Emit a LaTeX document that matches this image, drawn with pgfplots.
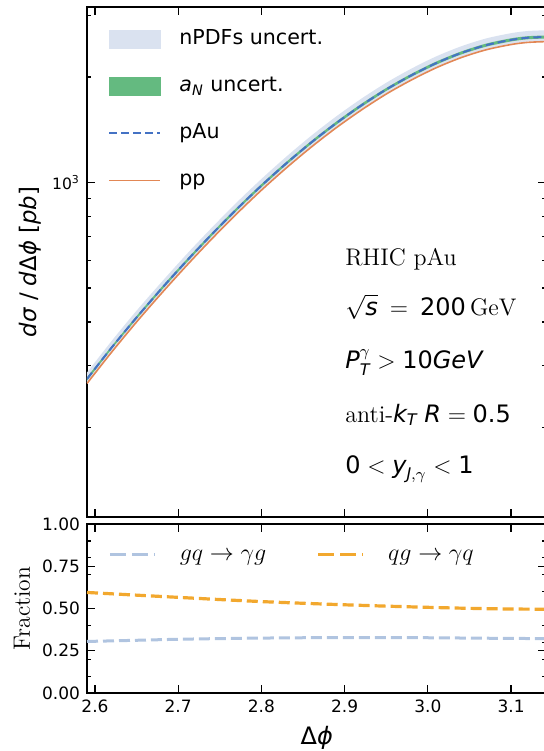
\documentclass[border=0pt]{standalone}
\usepackage{amsmath}
\usepackage{fontspec}
\usepackage{pgfplots}
\usepackage{pgfplotstable}
\usepgfplotslibrary{fillbetween}
\usetikzlibrary{calc}
\pgfplotsset{compat=1.18}
\newfontfamily\dv{DejaVu Sans}

\definecolor{nband}{RGB}{218,226,240}
\definecolor{aband}{RGB}{100,186,128}
\definecolor{paucol}{RGB}{68,114,196}
\definecolor{ppcol}{RGB}{226,135,85}
\definecolor{gqcol}{RGB}{176,196,224}
\definecolor{qgcol}{RGB}{242,168,46}

\newcommand{\si}[1]{{\dv\itshape #1}}
\newcommand{\su}[1]{{\dv #1}}

% cross section vs. azimuthal separation: pAu central value, pp,
% nPDF band (nlo..nhi) and a_N band (alo..ahi)
\pgfplotstableread{
x      pau  pp   nlo  nhi  alo  ahi
2.5904 275  267  268  287  272  278
2.62   338  328  330  353  335  341
2.65   412  400  402  431  408  416
2.68   498  483  486  520  493  503
2.71   597  579  582  624  591  603
2.74   710  689  692  742  703  717
2.77   838  813  817  876  830  846
2.80   980  951  956  1024 970  990
2.83   1135 1101 1107 1186 1124 1146
2.86   1302 1263 1269 1361 1289 1315
2.89   1478 1434 1441 1545 1463 1493
2.92   1660 1610 1619 1735 1643 1677
2.95   1844 1789 1798 1927 1826 1862
2.98   2022 1961 1971 2113 2002 2042
3.01   2192 2126 2137 2291 2170 2214
3.04   2343 2273 2284 2448 2320 2366
3.07   2467 2393 2405 2578 2442 2492
3.10   2554 2477 2490 2669 2528 2580
3.12   2590 2512 2525 2707 2564 2616
3.1416 2603 2525 2538 2720 2577 2629
}\spec

% channel fractions
\pgfplotstableread{
x      gq    qg
2.5904 0.305 0.595
2.65   0.312 0.579
2.70   0.318 0.566
2.75   0.322 0.553
2.80   0.325 0.541
2.85   0.327 0.531
2.90   0.328 0.522
2.95   0.328 0.514
3.00   0.327 0.507
3.05   0.325 0.501
3.10   0.323 0.497
3.1416 0.322 0.496
}\fracdata

\pgfplotsset{
  common/.style={
    scale only axis, width=229.35pt,
    xmin=2.5904, xmax=3.1416,
    xtick={2.6,2.7,2.8,2.9,3.0,3.1},
    tick align=inside, major tick length=3.8pt, minor tick length=2pt,
    every tick/.style={black, line width=0.6pt},
    axis line style={line width=0.9pt},
    ticklabel style={font=\dv\fontsize{8.5}{10}\selectfont},
    legend cell align=left,
  },
}

\begin{document}
\begin{tikzpicture}
\begin{axis}[common, name=top, height=255pt,
  ymode=log, ymin=111, ymax=3170,
  xticklabels={},
  ytick={1000}, yticklabels={10\textsuperscript{3}},
  minor ytick={200,300,400,500,600,700,800,900,2000,3000},
  yticklabel style={font=\dv\fontsize{7.8}{9}\selectfont},
  ylabel={\si{dσ}\ /\ \si{d}Δ\si{ϕ}\ [\si{pb}]},
  ylabel style={font=\dv\fontsize{11.4}{13}\selectfont, at={(axis description cs:-0.124,0.5)}, anchor=center},
  legend style={draw=none, fill=none, inner sep=0pt, at={(axis description cs:0,1)}, anchor=north west,
    xshift=10.5pt, yshift=-8.9pt, row sep=9.3pt, font=\dv\fontsize{10.3}{12}\selectfont,
    nodes={inner sep=2pt, text height=7.8pt, text depth=2.4pt}},
]
\addplot[name path=nhi, draw=none, smooth, forget plot] table[x=x, y=nhi] {\spec};
\addplot[name path=nlo, draw=none, smooth, forget plot] table[x=x, y=nlo] {\spec};
\addplot[nband, forget plot] fill between[of=nhi and nlo];
\addplot[name path=ahi, draw=none, smooth, forget plot] table[x=x, y=ahi] {\spec};
\addplot[name path=alo, draw=none, smooth, forget plot] table[x=x, y=alo] {\spec};
\addplot[aband, forget plot] fill between[of=ahi and alo];
\addplot[ppcol, line width=0.8pt, smooth, forget plot] table[x=x, y=pp] {\spec};
\addplot[paucol, line width=1pt, dash pattern=on 4pt off 2pt, smooth, forget plot] table[x=x, y=pau] {\spec};

\addlegendimage{legend image code/.code={\path[draw=none] (0pt,0pt) -- (33pt,0pt); \fill[nband] (0pt,-4.5pt) rectangle (25.5pt,4.5pt);}}
\addlegendentry{nPDFs uncert.}
\addlegendimage{legend image code/.code={\path[draw=none] (0pt,0pt) -- (33pt,0pt); \fill[aband] (0pt,-4.5pt) rectangle (25.5pt,4.5pt);}}
\addlegendentry{\si{a}$_{\text{\si{N}}}$ uncert.}
\addlegendimage{legend image code/.code={\path[draw=none] (0pt,0pt) -- (33pt,0pt); \draw[paucol, line width=1pt, dash pattern=on 4pt off 2pt] (0pt,0pt) -- (25.5pt,0pt);}}
\addlegendentry{pAu}
\addlegendimage{legend image code/.code={\path[draw=none] (0pt,0pt) -- (33pt,0pt); \draw[ppcol, line width=0.8pt] (0pt,0pt) -- (25.5pt,0pt);}}
\addlegendentry{pp}

\begin{scope}[every node/.style={anchor=base west, font=\fontsize{12}{14}\selectfont, inner sep=0pt}]
\node at (rel axis cs:0.5625,0.494) {RHIC pAu};
\node at (rel axis cs:0.5625,0.396) {$\sqrt{\text{\si{s}}}\:=\:\text{\su{200}}\,\mathrm{GeV}$};
\node at (rel axis cs:0.5625,0.292) {$\text{\si{P}}^{\gamma}_{\text{\si{T}}} > \text{\su{10}\si{GeV}}$};
\node at (rel axis cs:0.5625,0.186) {anti-$\text{\si{k}}_{\text{\si{T}}}\;\text{\si{R}} = \text{\su{0.5}}$};
\node at (rel axis cs:0.5625,0.086) {$\text{\su{0}} < \text{\si{y}}_{\text{\si{J}},\gamma} < \text{\su{1}}$};
\end{scope}
\end{axis}

\begin{axis}[common, name=bot, height=84.5pt,
  at={($(top.south west)+(0pt,-3.5pt)$)}, anchor=north west,
  ymin=0, ymax=1,
  xticklabels={2.6,2.7,2.8,2.9,3.0,3.1},
  ytick={0,0.25,0.5,0.75,1}, yticklabels={0.00,0.25,0.50,0.75,1.00},
  minor ytick={0.1,0.2,0.3,0.4,0.6,0.7,0.8,0.9},
  xlabel={Δ\si{ϕ}},
  xlabel style={font=\dv\fontsize{12}{14}\selectfont, at={(axis description cs:0.501,-0.266)}, anchor=center},
  ylabel={Fraction},
  ylabel style={font=\fontsize{11.8}{14}\selectfont, at={(axis description cs:-0.1417,0.5)}, anchor=center},
  legend columns=2,
  legend style={draw=none, fill=none, inner sep=0pt, at={(axis description cs:0,1)}, anchor=north west,
    xshift=10.5pt, yshift=-7pt, font=\fontsize{12.5}{14}\selectfont,
    nodes={inner sep=2pt, text height=9pt, text depth=3pt}},
]
\addplot[gqcol, line width=1.5pt, dash pattern=on 5.5pt off 2.5pt, smooth, forget plot] table[x=x, y=gq] {\fracdata};
\addplot[qgcol, line width=1.6pt, dash pattern=on 5.5pt off 2.5pt, smooth, forget plot] table[x=x, y=qg] {\fracdata};

\addlegendimage{legend image code/.code={\path[draw=none] (0pt,0pt) -- (33pt,0pt); \draw[gqcol, line width=1.5pt, dash pattern=on 8pt off 3pt] (0pt,0pt) -- (22.5pt,0pt);}}
\addlegendentry{$gq\rightarrow\gamma g$}
\addlegendimage{legend image code/.code={\path[draw=none] (-24pt,0pt) -- (33pt,0pt); \draw[qgcol, line width=1.6pt, dash pattern=on 8pt off 3pt] (0pt,0pt) -- (22.5pt,0pt);}}
\addlegendentry{$qg\rightarrow\gamma q$}
\end{axis}

\pgfresetboundingbox
\path ($(top.north west)+(-43.5pt,3.5pt)$) rectangle ++(272pt,-375.5pt);
\end{tikzpicture}
\end{document}
